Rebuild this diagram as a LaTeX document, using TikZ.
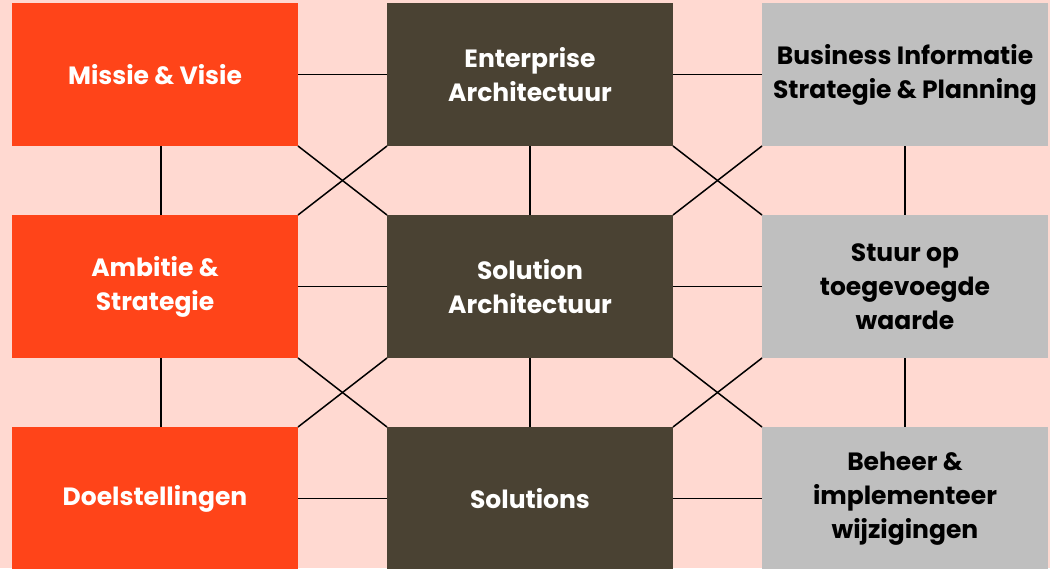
\documentclass[tikz,border=0pt]{standalone}
\usepackage{fontspec}
\setmainfont{Poppins}
\usetikzlibrary{positioning}
\usepackage{xcolor}

\definecolor{bgpink}{HTML}{FFD9D1}
\definecolor{visieorange}{HTML}{FF4419}
\definecolor{archbrown}{HTML}{4A4233}
\definecolor{bisgrey}{HTML}{BFBFBF}

\begin{document}
\begin{tikzpicture}[
            x = 1pt,
            y = -1pt,
            node distance = 69pt and 89pt,
            line width = 1.5pt
        ]

        \tikzstyle{every node}=[
            minimum width = 286pt,
            minimum height = 143pt,
            inner sep = 0pt,
            outer sep = 0pt,
            align = center,
            font = \fontsize{25}{34}\selectfont\bfseries
        ]
        \tikzstyle{business}=[fill = visieorange, text = white]
        \tikzstyle{architectuur}=[fill = archbrown, text = white]
        \tikzstyle{informatie}=[fill = bisgrey, text = black]

        \useasboundingbox (0, 0) rectangle (1050, 568);
        \fill[bgpink] (0, 0) rectangle (1050, 568);

        \node[business] (mv) at (155, 74.5) {Missie \& Visie};
        \node[architectuur] (ea) [right=of mv] {Enterprise\\Architectuur};
        \node[informatie] (bis) [right=of ea] {Business Informatie\\Strategie \& Planning};

        \node[business] (as) [below=of mv] {Ambitie \&\\Strategie};
        \node[architectuur] (sa) [below=of ea] {Solution\\Architectuur};
        \node[informatie] (stuur) [below=of bis] {Stuur op\\toegevoegde\\waarde};

        \node[business] (doel) [below=of as] {Doelstellingen};
        \node[architectuur] (sol) [below=of sa] {Solutions};
        \node[informatie] (beheer) [below=of stuur] {Beheer \&\\implementeer\\wijzigingen};

        % horizontal
        \draw (mv) -- (ea);
        \draw (ea) -- (bis);
        \draw (as) -- (sa);
        \draw (sa) -- (stuur);
        \draw (doel) -- (sol);
        \draw (sol) -- (beheer);

        % vertical
        \draw ([xshift=6pt]mv.south) -- ([xshift=6pt]as.north);
        \draw ([xshift=6pt]as.south) -- ([xshift=6pt]doel.north);
        \draw (ea) -- (sa);
        \draw (sa) -- (sol);
        \draw (bis) -- (stuur);
        \draw (stuur) -- (beheer);

        % crossings
        \draw (mv.south east) -- (sa.north west);
        \draw (ea.south west) -- (as.north east);
        \draw (ea.south east) -- (stuur.north west);
        \draw (bis.south west) -- (sa.north east);
        \draw (as.south east) -- (sol.north west);
        \draw (sa.south west) -- (doel.north east);
        \draw (sa.south east) -- (beheer.north west);
        \draw (stuur.south west) -- (sol.north east);
    \end{tikzpicture}
\end{document}
